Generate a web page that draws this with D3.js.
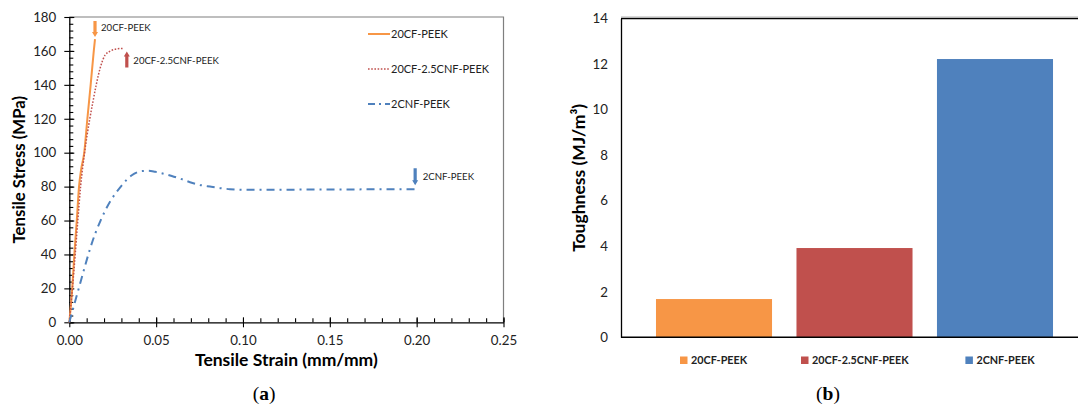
<!DOCTYPE html>
<html>
<head>
<meta charset="utf-8">
<script src="https://cdn.jsdelivr.net/npm/d3@7"></script>
<style>
  body { margin: 0; background: #fff; }
  svg { display: block; font-family: Lato, "Open Sans", sans-serif; }
</style>
</head>
<body>
<div id="chart"></div>
<script>
// series names + colours
const seriesNames = ["20CF-PEEK", "20CF-2.5CNF-PEEK", "2CNF-PEEK"];
const seriesColors = ["#F79646", "#C0504D", "#4F81BD"];

// (a) stress-strain curves, [strain, stress]
const cfPeek = [[0, 0], [0.0017, 20], [0.0029, 40], [0.0043, 60], [0.0056, 80], [0.0068, 90],
  [0.0086, 100], [0.0104, 120], [0.0123, 140], [0.0141, 160], [0.0148, 167]];
const cfCnfPeek = [[0, 0], [0.0018, 20], [0.0034, 40], [0.0049, 60], [0.0065, 80], [0.0088, 100],
  [0.0118, 120], [0.0136, 130], [0.0155, 140], [0.0178, 150], [0.0206, 157.5], [0.0238, 160],
  [0.0275, 161.2], [0.0311, 161.5]];
const cnfPeek = [[0, 0], [0.003, 11], [0.006, 22], [0.009, 33], [0.012, 43.5], [0.015, 52.5],
  [0.018, 60], [0.021, 66.5], [0.024, 72], [0.027, 76.5], [0.030, 80.5], [0.033, 84],
  [0.036, 86.7], [0.039, 88.4], [0.042, 89.2], [0.0455, 89.3], [0.0495, 88.7], [0.0532, 87.9],
  [0.059, 86.3], [0.0647, 84.4], [0.0695, 82.6], [0.0752, 81], [0.081, 80], [0.0868, 79.1],
  [0.0925, 78.5], [0.104, 78.1], [0.1174, 78.1], [0.127, 78.2], [0.15, 78.3], [0.175, 78.4],
  [0.2, 78.5]];
const curves = [cfPeek, cfCnfPeek, cnfPeek];

const strainTicks = [0, 0.05, 0.10, 0.15, 0.20, 0.25];
const stressTicks = [0, 20, 40, 60, 80, 100, 120, 140, 160, 180];

// (b) toughness bars
const toughness = [1.68, 3.92, 12.22];
const toughnessTicks = [0, 2, 4, 6, 8, 10, 12, 14];

const width = 1078;
const height = 407;

const svg = d3.select("#chart").append("svg")
  .attr("width", width)
  .attr("height", height);

// ---------------- chart (a) ----------------
const xA = d3.scaleLinear().domain([0, 0.25]).range([69.3, 503.5]);
const yA = d3.scaleLinear().domain([0, 180]).range([322.3, 17]);

//frame top + right
svg.append("path")
  .attr("d", `M${xA(0)},${yA(180)}H${xA(0.25)}V${yA(0)}`)
  .attr("fill", "none")
  .attr("stroke", "#7f7f7f")
  .attr("stroke-width", 1.2);

//minor ticks pointing into the plot
const minorX = d3.range(0, 0.2501, 0.01);
const minorY = d3.range(0, 180.1, 4);

svg.append("g")
  .attr("transform", `translate(0,${yA(0)})`)
  .call(d3.axisTop(xA).tickValues(minorX).tickSize(4).tickFormat("").tickSizeOuter(0))
  .call(g => g.select(".domain").remove());
svg.append("g")
  .attr("transform", `translate(${xA(0)},0)`)
  .call(d3.axisRight(yA).tickValues(minorY).tickSize(4).tickFormat("").tickSizeOuter(0))
  .call(g => g.select(".domain").remove());

//major axes
const axisXA = svg.append("g")
  .attr("transform", `translate(0,${yA(0)})`)
  .call(d3.axisBottom(xA).tickValues(strainTicks).tickFormat(d3.format(".2f"))
    .tickSizeInner(5).tickSizeOuter(0).tickPadding(8));
const axisYA = svg.append("g")
  .attr("transform", `translate(${xA(0)},0)`)
  .call(d3.axisLeft(yA).tickValues(stressTicks).tickSizeInner(5).tickSizeOuter(0).tickPadding(8));

//major ticks also cross into the plot
axisXA.selectAll(".tick line").attr("y1", -5);
axisYA.selectAll(".tick line").attr("x1", 5);

[axisXA, axisYA].forEach(g => {
  g.select(".domain").attr("stroke", "#000").attr("stroke-width", 1.3);
  g.selectAll(".tick line").attr("stroke", "#000");
  g.selectAll("text").attr("font-family", "Lato").attr("font-size", 13.3).attr("fill", "#222");
});
svg.selectAll("g .tick line").attr("stroke-width", 1.1);

//axis titles
svg.append("text")
  .attr("x", (xA(0) + xA(0.25)) / 2)
  .attr("y", 366)
  .attr("text-anchor", "middle")
  .attr("font-weight", "bold")
  .attr("font-size", 17.5)
  .text("Tensile Strain (mm/mm)");

svg.append("text")
  .attr("transform", `translate(25,${(yA(0) + yA(180)) / 2}) rotate(-90)`)
  .attr("text-anchor", "middle")
  .attr("font-weight", "bold")
  .attr("font-size", 16.8)
  .text("Tensile Stress (MPa)");

//curves
const line = d3.line()
  .x(d => xA(d[0]))
  .y(d => yA(d[1]))
  .curve(d3.curveMonotoneX);

const dashes = [null, "1.6,1.6", "8,5,2,5"];
const widths = [2, 1.5, 2];

curves.forEach((c, i) => {
  svg.append("path")
    .datum(c)
    .attr("d", line)
    .attr("fill", "none")
    .attr("stroke", seriesColors[i])
    .attr("stroke-width", widths[i])
    .attr("stroke-dasharray", dashes[i]);
});

//legend (a)
const legendY = [34, 69, 104];
seriesNames.forEach((name, i) => {
  svg.append("line")
    .attr("x1", 368).attr("x2", 390)
    .attr("y1", legendY[i]).attr("y2", legendY[i])
    .attr("stroke", seriesColors[i])
    .attr("stroke-width", widths[i])
    .attr("stroke-dasharray", i === 2 ? "7,4,2,4" : dashes[i]);
  svg.append("text")
    .attr("x", 391)
    .attr("y", legendY[i])
    .attr("dy", "0.35em")
    .attr("font-size", 11)
    .attr("fill", "#222")
    .text(name);
});

//fracture arrows + labels, placed at the last point of each curve
function blockArrow(x, yTail, yTip, color) {
  const dir = yTip > yTail ? 1 : -1;
  const head = 5 * dir;
  svg.append("path")
    .attr("d", `M${x - 1.6},${yTail}V${yTip - head}H${x - 3}L${x},${yTip}L${x + 3},${yTip - head}H${x + 1.6}V${yTail}Z`)
    .attr("fill", color);
}

const ends = curves.map(c => c[c.length - 1]);
//20CF-PEEK: arrow above the end pointing down
blockArrow(xA(ends[0][0]), yA(ends[0][1]) - 18, yA(ends[0][1]) - 2, seriesColors[0]);
svg.append("text").attr("x", xA(ends[0][0]) + 6).attr("y", yA(ends[0][1]) - 11)
  .attr("dy", "0.35em").attr("font-size", 9.6).attr("fill", "#222").text(seriesNames[0]);
//20CF-2.5CNF-PEEK: arrow to the right pointing up
blockArrow(xA(ends[1][0]) + 3.5, yA(ends[1][1]) + 19, yA(ends[1][1]) + 3, seriesColors[1]);
svg.append("text").attr("x", xA(ends[1][0]) + 10).attr("y", yA(ends[1][1]) + 12)
  .attr("dy", "0.35em").attr("font-size", 9.6).attr("fill", "#222").text(seriesNames[1]);
//2CNF-PEEK: arrow above the end pointing down
blockArrow(xA(ends[2][0]) - 1.5, yA(ends[2][1]) - 21, yA(ends[2][1]) - 4, seriesColors[2]);
svg.append("text").attr("x", xA(ends[2][0]) + 6).attr("y", yA(ends[2][1]) - 13)
  .attr("dy", "0.35em").attr("font-size", 9.6).attr("fill", "#222").text(seriesNames[2]);

//caption (a)
svg.append("text")
  .attr("x", 264).attr("y", 400)
  .attr("text-anchor", "middle")
  .attr("font-family", "Liberation Serif, serif")
  .attr("font-size", 19.5)
  .html('(<tspan font-weight="bold">a</tspan>)');

// ---------------- chart (b) ----------------
const xB = d3.scaleBand().domain(seriesNames).range([621, 1088])
  .paddingInner(0.174).paddingOuter(0.249);
const yB = d3.scaleLinear().domain([0, 14]).range([337.3, 18.5]);

//light outer border line
svg.append("line")
  .attr("x1", 621).attr("x2", width)
  .attr("y1", 16.7).attr("y2", 16.7)
  .attr("stroke", "#d0d0d0").attr("stroke-width", 1);

svg.selectAll(".bar")
  .data(toughness)
  .enter()
  .append("rect")
  .attr("class", "bar")
  .attr("x", (d, i) => xB(seriesNames[i]))
  .attr("y", d => yB(d))
  .attr("width", xB.bandwidth())
  .attr("height", d => yB(0) - yB(d))
  .attr("fill", (d, i) => seriesColors[i]);

const axisYB = svg.append("g")
  .attr("transform", "translate(621,0)")
  .call(d3.axisLeft(yB).tickValues(toughnessTicks).tickSize(0).tickPadding(13));
axisYB.select(".domain").attr("stroke", "#000").attr("stroke-width", 1.3);
axisYB.selectAll("text").attr("font-family", "Lato").attr("font-size", 13.3).attr("fill", "#222");

//bottom axis + top frame
svg.append("line")
  .attr("x1", 621).attr("x2", width)
  .attr("y1", yB(0)).attr("y2", yB(0))
  .attr("stroke", "#000").attr("stroke-width", 1.5);
svg.append("line")
  .attr("x1", 621).attr("x2", width)
  .attr("y1", yB(14)).attr("y2", yB(14))
  .attr("stroke", "#000").attr("stroke-width", 1.3);

svg.append("text")
  .attr("transform", `translate(585,${(yB(0) + yB(14)) / 2}) rotate(-90)`)
  .attr("text-anchor", "middle")
  .attr("font-weight", "bold")
  .attr("font-size", 17.5)
  .text("Toughness (MJ/m³)");

//legend (b)
const legendBX = [680, 801, 965.4];
seriesNames.forEach((name, i) => {
  svg.append("rect")
    .attr("x", legendBX[i]).attr("y", 356.5)
    .attr("width", 7.5).attr("height", 7.5)
    .attr("fill", seriesColors[i]);
  svg.append("text")
    .attr("x", legendBX[i] + 11)
    .attr("y", 360.3)
    .attr("dy", "0.35em")
    .attr("font-size", 10.8)
    .attr("font-weight", "bold")
    .attr("fill", "#222")
    .text(name);
});

svg.append("text")
  .attr("x", 828).attr("y", 400)
  .attr("text-anchor", "middle")
  .attr("font-family", "Liberation Serif, serif")
  .attr("font-size", 19.5)
  .html('(<tspan font-weight="bold">b</tspan>)');
</script>
</body>
</html>
